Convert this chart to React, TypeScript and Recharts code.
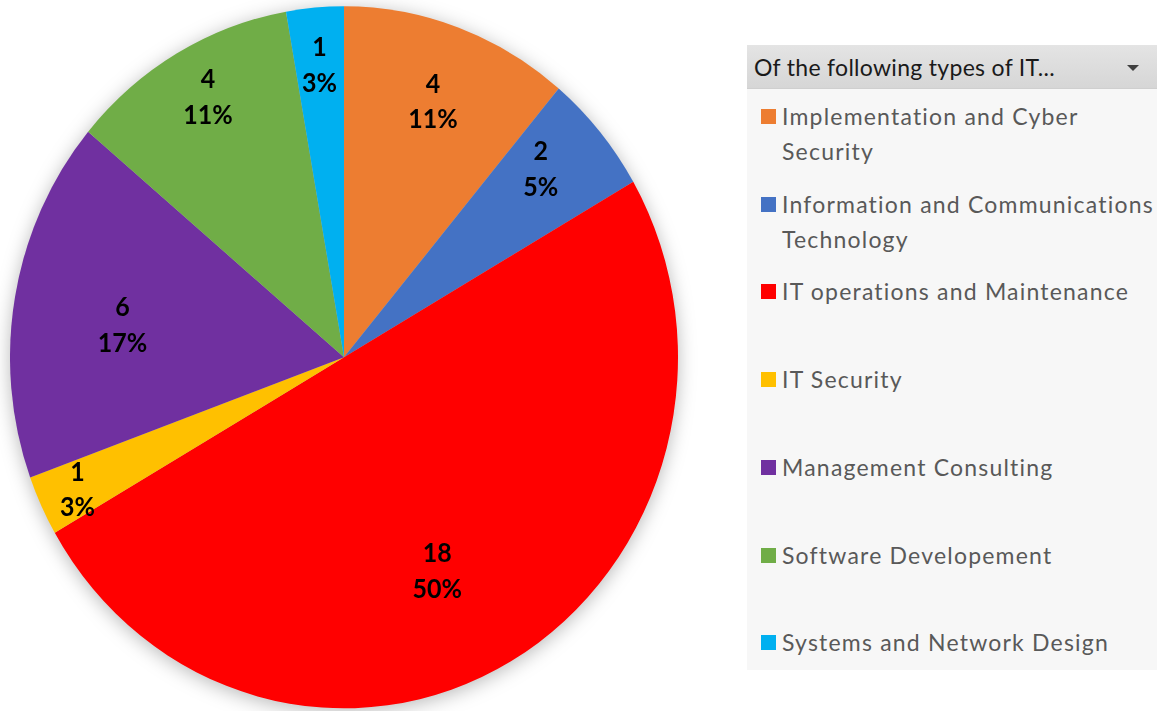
import { PieChart, Pie, Cell } from "recharts";

// ---------------------------------------------------------------------------
// Data
// ---------------------------------------------------------------------------

const CATEGORIES = [
  "Implementation and Cyber Security",
  "Information and Communications Technology",
  "IT operations and Maintenance",
  "IT Security",
  "Management Consulting",
  "Software Developement",
  "Systems and Network Design",
];

const COUNTS = [4, 2, 18, 1, 6, 4, 1];

// percentages as printed on the slices
const PERCENT_LABELS = ["11%", "5%", "50%", "3%", "17%", "11%", "3%"];

const COLORS = ["#ED7D31", "#4472C4", "#FF0000", "#FFC000", "#7030A0", "#70AD47", "#00B0F0"];

const LEGEND_TITLE = "Of the following types of IT...";

// label placement (Excel "best fit"): radius fraction and angle nudge in degrees
const LABEL_RADIUS = [0.78, 0.8, 0.665, 0.88, 0.67, 0.85, 0.84];
const LABEL_ANGLE_SHIFT = [0, 2.6, -5.2, 0, 1.8, -1.4, 0];

const FONT = "Lato, 'Open Sans', sans-serif";
const RADIAN = Math.PI / 180;

const chartData = CATEGORIES.map((name, i) => ({ name, value: COUNTS[i] }));

// ---------------------------------------------------------------------------
// Slice labels
// ---------------------------------------------------------------------------

function renderLabel(props: any) {
  const { cx, cy, midAngle, outerRadius, index, value } = props;
  const r = outerRadius * LABEL_RADIUS[index];
  const a = midAngle + LABEL_ANGLE_SHIFT[index];
  const x = cx + r * Math.cos(-a * RADIAN);
  const y = cy + r * Math.sin(-a * RADIAN);
  return (
    <text
      x={x}
      y={y}
      textAnchor="middle"
      fill="#000"
      fontFamily={FONT}
      fontWeight="bold"
      fontSize={25}
    >
      <tspan x={x} dy={-7}>{value}</tspan>
      <tspan x={x} dy={34}>{PERCENT_LABELS[index]}</tspan>
    </text>
  );
}

// ---------------------------------------------------------------------------
// Component
// ---------------------------------------------------------------------------

export default function App() {
  return (
    <div
      style={{
        position: "absolute",
        left: 0,
        top: 0,
        width: 1157,
        height: 711,
        background: "#fff",
        fontFamily: FONT,
        overflow: "hidden",
      }}
    >
      <div
        style={{
          position: "absolute",
          left: 0,
          top: 0,
          transform: "scaleY(1.051)",
          transformOrigin: "0 0",
          filter: "drop-shadow(0px 3px 9px rgba(0,0,0,0.28))",
        }}
      >
        <PieChart width={700} height={690} margin={{ top: 0, right: 0, bottom: 0, left: 0 }}>
          <Pie
            data={chartData}
            dataKey="value"
            nameKey="name"
            cx={344}
            cy={340}
            outerRadius={334}
            startAngle={90}
            endAngle={-270}
            stroke="none"
            label={renderLabel}
            labelLine={false}
            isAnimationActive={false}
          >
            {chartData.map((d, i) => (
              <Cell key={d.name} fill={COLORS[i]} />
            ))}
          </Pie>
        </PieChart>
      </div>

      {/* legend panel */}
      <div
        style={{
          position: "absolute",
          left: 747,
          top: 45,
          width: 410,
          height: 625,
          background: "#f7f7f7",
        }}
      >
        <div
          style={{
            height: 43,
            background: "linear-gradient(#e4e4e4, #d6d6d6)",
            borderBottom: "1px solid #cfcfcf",
            position: "relative",
            color: "#1a1a1a",
            fontSize: 23,
            letterSpacing: 0.3,
            lineHeight: "44px",
            paddingLeft: 7,
          }}
        >
          {LEGEND_TITLE}
          <div
            style={{
              position: "absolute",
              left: 380,
              top: 20,
              width: 0,
              height: 0,
              borderLeft: "6px solid transparent",
              borderRight: "6px solid transparent",
              borderTop: "6px solid #404040",
            }}
          />
        </div>
        {CATEGORIES.map((name, i) => (
          <div
            key={name}
            style={{
              position: "absolute",
              left: 14,
              top: 54 + i * 87.7,
              display: "flex",
              alignItems: "flex-start",
            }}
          >
            <div
              style={{
                width: 15,
                height: 15,
                background: COLORS[i],
                marginTop: 10,
                marginRight: 6,
                flex: "none",
              }}
            />
            <div
              style={{
                width: 374,
                fontSize: 23,
                letterSpacing: 1.2,
                lineHeight: "35px",
                color: "#595959",
              }}
            >
              {name}
            </div>
          </div>
        ))}
      </div>
    </div>
  );
}
